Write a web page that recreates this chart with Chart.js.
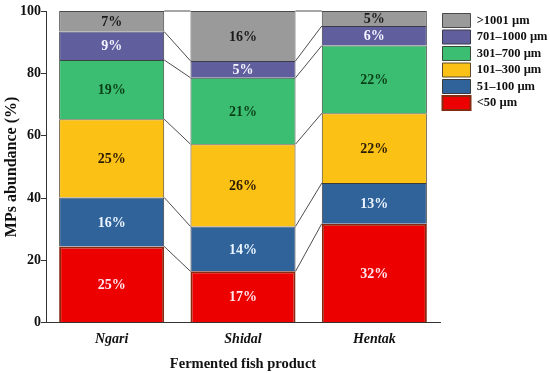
<!DOCTYPE html>
<html>
<head>
<meta charset="utf-8">
<script src="https://cdn.jsdelivr.net/npm/chart.js@4.4.1/dist/chart.umd.min.js"></script>
<style>
  html, body { margin: 0; padding: 0; background: #fff; }
  #wrap { width: 550px; height: 373px; }
</style>
</head>
<body>
<div id="wrap"><canvas id="myChart" width="550" height="373"></canvas></div>
<script>
// categories and size classes
var products = ['Ngari', 'Shidal', 'Hentak'];
var sizeClasses = ['<50 µm', '51–100 µm', '101–300 µm', '301–700 µm', '701–1000 µm', '>1001 µm'];

// segment heights (% abundance)
var lt50 = [24.5, 16.5, 31.8];
var s51_100 = [15.7, 14.4, 13.0];
var s101_300 = [25.1, 26.4, 22.4];
var s301_700 = [19.0, 21.3, 21.7];
var s701_1000 = [9.1, 5.4, 6.3];
var gt1001 = [6.6, 16.0, 4.8];

// printed labels in each segment
var lbl_lt50 = ['25%', '17%', '32%'];
var lbl_51_100 = ['16%', '14%', '13%'];
var lbl_101_300 = ['25%', '26%', '22%'];
var lbl_301_700 = ['19%', '21%', '22%'];
var lbl_701_1000 = ['9%', '5%', '6%'];
var lbl_gt1001 = ['7%', '16%', '5%'];

var yTicks = [0, 20, 40, 60, 80, 100];

var serif = "'Liberation Serif', 'Times New Roman', serif";

var ds = (label, data, bg, border, bw, labels, txt) => ({
  label: label,
  data: data,
  backgroundColor: bg,
  borderColor: border,
  borderWidth: bw,
  segLabels: labels,
  textColor: txt
});

// connecting lines between the same boundary of neighbouring bars
var linkLines = {
  id: 'linkLines',
  afterDatasetsDraw(chart) {
    var c = chart.ctx;
    c.save();
    c.strokeStyle = '#4d4d4d';
    c.lineWidth = 1;
    chart.data.datasets.forEach((d, di) => {
      var meta = chart.getDatasetMeta(di);
      for (var i = 0; i < meta.data.length - 1; i++) {
        var a = meta.data[i], b = meta.data[i + 1];
        c.beginPath();
        c.moveTo(a.x + a.width / 2, a.y);
        c.lineTo(b.x - b.width / 2, b.y);
        c.stroke();
      }
    });
    c.restore();
  }
};

// percentage labels in the middle of each segment
var segText = {
  id: 'segText',
  afterDatasetsDraw(chart) {
    var c = chart.ctx;
    c.save();
    c.font = 'bold 14px ' + serif;
    c.textAlign = 'center';
    c.textBaseline = 'middle';
    chart.data.datasets.forEach((d, di) => {
      var meta = chart.getDatasetMeta(di);
      meta.data.forEach((el, i) => {
        c.fillStyle = d.textColor;
        c.fillText(d.segLabels[i], el.x, (el.y + el.base) / 2 + 1);
      });
    });
    c.restore();
  }
};

var chart = new Chart(document.getElementById('myChart'), {
  type: 'bar',
  data: {
    labels: products,
    datasets: [
      ds(sizeClasses[0], lt50, '#ec0000', '#862a10', 2, lbl_lt50, '#ffe6ee'),
      ds(sizeClasses[1], s51_100, '#306399', '#3a3a3a', 1, lbl_51_100, '#eaf4ff'),
      ds(sizeClasses[2], s101_300, '#fcc115', '#5a4a2a', 1, lbl_101_300, '#2a1a05'),
      ds(sizeClasses[3], s301_700, '#3cbe72', '#3a4a3a', 1, lbl_301_700, '#0b3f18'),
      ds(sizeClasses[4], s701_1000, '#605e9d', '#3a3a4a', 1, lbl_701_1000, '#f4f4ff'),
      ds(sizeClasses[5], gt1001, '#9a9a9a', '#4a4a4a', 1, lbl_gt1001, '#1a1a1a')
    ]
  },
  options: {
    responsive: false,
    animation: false,
    layout: { padding: { left: 0, right: 0, top: 11, bottom: 0 } },
    datasets: {
      bar: { categoryPercentage: 1, barPercentage: 0.8 }
    },
    plugins: {
      tooltip: { enabled: false },
      legend: {
        position: 'right',
        align: 'start',
        reverse: true,
        maxWidth: 110,
        labels: {
          boxWidth: 28,
          boxHeight: 14,
          padding: 2.5,
          color: '#111',
          font: { family: serif, size: 12.5, weight: 'bold' }
        }
      }
    },
    scales: {
      x: {
        stacked: true,
        grid: { display: false, drawTicks: false },
        border: { display: true, color: '#333', width: 1 },
        ticks: {
          padding: 8,
          color: '#111',
          font: { family: serif, size: 14, weight: 'bold', style: 'italic' }
        },
        title: {
          display: true,
          text: 'Fermented fish product',
          color: '#111',
          padding: { top: 0, bottom: 0 },
          font: { family: serif, size: 14.5, weight: 'bold' }
        }
      },
      y: {
        stacked: true,
        min: 0,
        max: 100,
        afterBuildTicks: (axis) => { axis.ticks = yTicks.map(v => ({ value: v })); },
        grid: { display: true, drawOnChartArea: false, drawTicks: true, tickLength: 5, color: '#333' },
        border: { display: true, color: '#333', width: 1 },
        ticks: {
          padding: 0,
          color: '#111',
          font: { family: serif, size: 14, weight: 'bold' }
        },
        title: {
          display: true,
          text: 'MPs abundance (%)',
          color: '#111',
          padding: { top: 4, bottom: 0 },
          font: { family: serif, size: 16, weight: 'bold', lineHeight: 1.0 }
        }
      }
    }
  },
  plugins: [linkLines, segText]
});
</script>
</body>
</html>
